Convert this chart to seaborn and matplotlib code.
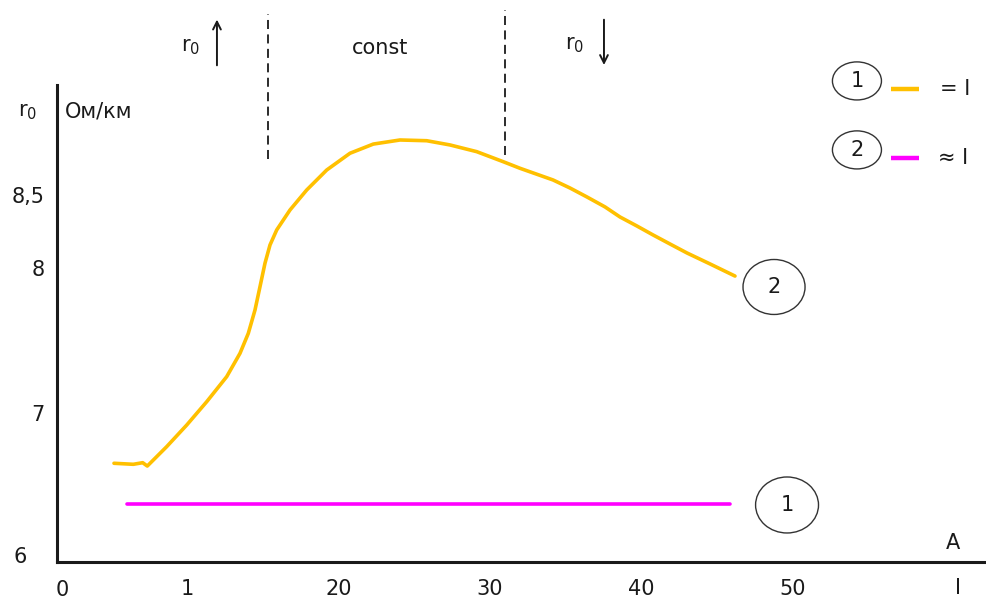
import matplotlib
matplotlib.use('Agg')
import matplotlib.pyplot as plt
from matplotlib.patches import Ellipse
import seaborn as sns
import pandas as pd

# curve 2 (yellow) - r0 vs current
current_2 = [5.175, 6.451, 7.072, 7.376, 8.658, 9.980, 11.302, 12.624, 13.503, 14.052, 14.494,
             14.825, 15.155, 15.486, 15.929, 16.808, 17.911, 19.233, 20.773, 22.313, 24.078,
             25.843, 27.383, 29.148, 30.905, 32.009, 34.19, 35.31, 36.44, 37.63, 38.62, 39.74,
             40.80, 41.92, 43.05, 44.57, 46.22]
r0_2 = [6.658, 6.651, 6.662, 6.639, 6.772, 6.920, 7.080, 7.252, 7.412, 7.549, 7.709,
        7.869, 8.030, 8.155, 8.258, 8.395, 8.532, 8.669, 8.784, 8.847, 8.875,
        8.870, 8.841, 8.795, 8.726, 8.681, 8.601, 8.546, 8.484, 8.416, 8.347, 8.285,
        8.224, 8.162, 8.100, 8.025, 7.942]
# curve 1 (magenta) - constant
current_1 = [6.03, 45.89]
r0_1 = [6.379, 6.379]

x_ticks = [10, 20, 30, 40, 50]
x_ticklabels = ['1', '20', '30', '40', '50']
y_ticks = [7, 8, 8.5]
y_ticklabels = ['7', '8', '8,5']
zone_bounds = [15.35, 31.02]

YELLOW = '#FFC000'
MAGENTA = '#FF00FF'
INK = '#1a1a1a'

sns.set_style('white')
plt.rcParams['font.family'] = ['DejaVu Sans']
plt.rcParams['mathtext.default'] = 'regular'

df = pd.concat([
    pd.DataFrame({'I': current_2, 'r0': r0_2, 'curve': '2'}),
    pd.DataFrame({'I': current_1, 'r0': r0_1, 'curve': '1'}),
])

fig = plt.figure(figsize=(9.86, 6.01), dpi=100)
ax = fig.add_axes([57 / 986, 39 / 601, 929 / 986, 562 / 601])

sns.lineplot(data=df, x='I', y='r0', hue='curve', palette={'2': YELLOW, '1': MAGENTA},
             estimator=None, sort=False, linewidth=2.6, legend=False, ax=ax)
for ln in ax.get_lines():
    ln.set_solid_joinstyle('round')

ax.set_xlim(1.408, 62.81)
ax.set_ylim(5.981, 9.835)
ax.set_xlabel('')
ax.set_ylabel('')

for s in ['top', 'right']:
    ax.spines[s].set_visible(False)
for s in ['left', 'bottom']:
    ax.spines[s].set_linewidth(2.2)
    ax.spines[s].set_color(INK)
ax.spines['left'].set_bounds(5.981, 9.25)

ax.set_xticks(x_ticks)
ax.set_xticklabels(x_ticklabels)
ax.set_yticks(y_ticks)
ax.set_yticklabels(y_ticklabels)
ax.tick_params(axis='both', direction='in', length=14, width=2.2, color=INK,
               labelsize=15, labelcolor=INK)
ax.tick_params(axis='x', pad=12)
ax.tick_params(axis='y', pad=9)

fs = 15
R0 = 'r$_0$'
# extra axis texts
ax.text(-1.04, 6.015, '6', fontsize=fs, ha='center', va='center', color=INK)
ax.text(1.74, 5.79, '0', fontsize=fs, ha='center', va='center', color=INK)
ax.text(60.63, 6.111, 'A', fontsize=fs, ha='center', va='center', color=INK)
ax.text(60.96, 5.80, 'I', fontsize=fs, ha='center', va='center', color=INK)
ax.text(-0.51, 9.067, R0, fontsize=fs, ha='center', va='center', color=INK)
ax.text(1.9, 9.067, 'Ом/км', fontsize=fs, ha='left', va='center', color=INK)

# zones above the curve
ax.vlines(zone_bounds[0], 8.744, 9.739, colors=INK, linestyles=(0, (5, 3)), linewidth=1.3)
ax.vlines(zone_bounds[1], 8.771, 9.767, colors=INK, linestyles=(0, (5, 3)), linewidth=1.3)
ax.text(10.26, 9.513, R0, fontsize=fs, ha='center', va='center', color=INK)
ax.annotate('', xy=(11.98, 9.72), xytext=(11.98, 9.368),
            arrowprops=dict(arrowstyle='->', lw=1.4, color=INK, mutation_scale=14))
ax.text(22.76, 9.506, 'const', fontsize=fs, ha='center', va='center', color=INK)
ax.text(35.64, 9.527, R0, fontsize=fs, ha='center', va='center', color=INK)
ax.annotate('', xy=(37.56, 9.37), xytext=(37.56, 9.719),
            arrowprops=dict(arrowstyle='->', lw=1.4, color=INK, mutation_scale=14))

# numbered circles at the curve ends
for (cx, cy, w, h, num) in [(48.80, 7.867, 4.10, 0.377, '2'), (49.66, 6.372, 4.16, 0.384, '1')]:
    ax.add_patch(Ellipse((cx, cy), w, h, fill=False, edgecolor='#333333', linewidth=1.0))
    ax.text(cx, cy, num, fontsize=fs, ha='center', va='center', color=INK)

# key at top right
for (cy, num, col, lbl, lx) in [(9.280, '1', YELLOW, '= I', 60.76), (8.807, '2', MAGENTA, '≈ I', 60.63)]:
    ax.add_patch(Ellipse((54.28, cy), 3.24, 0.261, fill=False, edgecolor='#333333', linewidth=1.0))
    ax.text(54.28, cy, num, fontsize=fs, ha='center', va='center', color=INK)
    ax.plot([56.55, 58.4], [cy - 0.055, cy - 0.055], color=col, linewidth=3.2, solid_capstyle='butt')
    ax.text(lx, cy - 0.055, lbl, fontsize=fs, ha='center', va='center', color=INK)

plt.savefig('out.png', dpi=100)
